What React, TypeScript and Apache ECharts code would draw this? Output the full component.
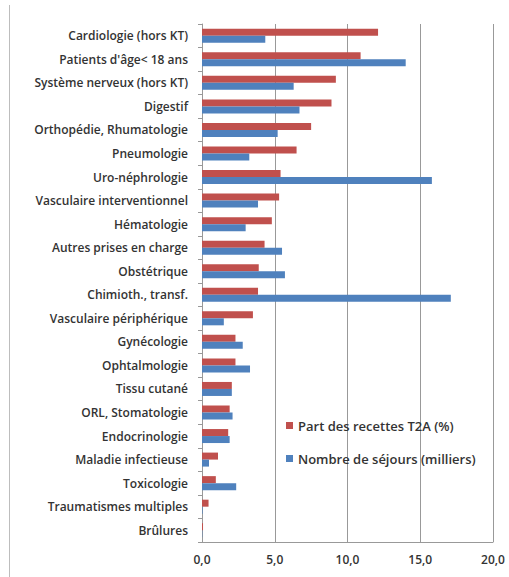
import React, { useEffect, useRef } from "react";
import * as echarts from "echarts";

const categories = [
  "Cardiologie (hors KT)",
  "Patients d'âge< 18 ans",
  "Système nerveux (hors KT)",
  "Digestif",
  "Orthopédie, Rhumatologie",
  "Pneumologie",
  "Uro-néphrologie",
  "Vasculaire interventionnel",
  "Hématologie",
  "Autres prises en charge",
  "Obstétrique",
  "Chimioth., transf.",
  "Vasculaire périphérique",
  "Gynécologie",
  "Ophtalmologie",
  "Tissu cutané",
  "ORL, Stomatologie",
  "Endocrinologie",
  "Maladie infectieuse",
  "Toxicologie",
  "Traumatismes multiples",
  "Brûlures",
];

const partRecettes = [12.1, 10.9, 9.2, 8.9, 7.5, 6.5, 5.4, 5.3, 4.8, 4.3, 3.9, 3.85, 3.5, 2.3, 2.3, 2.05, 1.9, 1.8, 1.1, 0.95, 0.45, 0.07];
const nombreSejours = [4.35, 14.0, 6.3, 6.7, 5.2, 3.25, 15.8, 3.85, 3.0, 5.5, 5.7, 17.1, 1.5, 2.8, 3.3, 2.05, 2.1, 1.9, 0.48, 2.35, 0.04, 0.02];

const xTicks = [0, 5, 10, 15, 20];

export default function App() {
  const ref = useRef<HTMLDivElement>(null);
  useEffect(() => {
    if (!ref.current) return;
    const chart = echarts.init(ref.current, null, { renderer: "svg" });
    chart.setOption({
      animation: false,
      backgroundColor: "#ffffff",
      textStyle: { fontFamily: "Open Sans" },
      graphic: [
        {
          type: "line",
          shape: { x1: 9.5, y1: 5, x2: 9.5, y2: 577 },
          style: { stroke: "#bdbdbd", lineWidth: 1 },
        },
      ],
      grid: { left: 202, right: 16, top: 24, bottom: 35, containLabel: false },
      legend: {
        orient: "vertical",
        left: 281,
        top: 414,
        itemWidth: 7,
        itemHeight: 7,
        itemGap: 20,
        icon: "rect",
        textStyle: { fontSize: 13, fontWeight: 600, color: "#333333", fontFamily: "Open Sans" },
        data: ["Part des recettes T2A (%)", "Nombre de séjours (milliers)"],
      },
      xAxis: {
        type: "value",
        min: xTicks[0],
        max: xTicks[xTicks.length - 1],
        interval: 5,
        axisLine: { show: true, lineStyle: { color: "#999999" } },
        axisTick: { show: false },
        splitLine: { show: true, lineStyle: { color: "#999999", width: 1 } },
        axisLabel: {
          margin: 11,
          fontSize: 12,
          fontWeight: 600,
          color: "#333333",
          formatter: (v: number) => v.toFixed(1).replace(".", ","),
        },
      },
      yAxis: {
        type: "category",
        inverse: true,
        data: categories,
        axisLine: { show: true, lineStyle: { color: "#999999" } },
        axisTick: { show: true, length: 4, lineStyle: { color: "#999999" } },
        axisLabel: { margin: 14, fontSize: 12, fontWeight: 600, color: "#333333" },
      },
      series: [
        {
          name: "Part des recettes T2A (%)",
          type: "bar",
          data: partRecettes,
          barWidth: 7,
          barGap: "0%",
          itemStyle: { color: "#C0504D" },
        },
        {
          name: "Nombre de séjours (milliers)",
          type: "bar",
          data: nombreSejours,
          barWidth: 7,
          barGap: "0%",
          itemStyle: { color: "#4F81BD" },
        },
      ],
    });
    return () => chart.dispose();
  }, []);
  return (
    <div
      ref={ref}
      style={{ position: "fixed", left: 0, top: 0, width: 509, height: 577 }}
    />
  );
}
